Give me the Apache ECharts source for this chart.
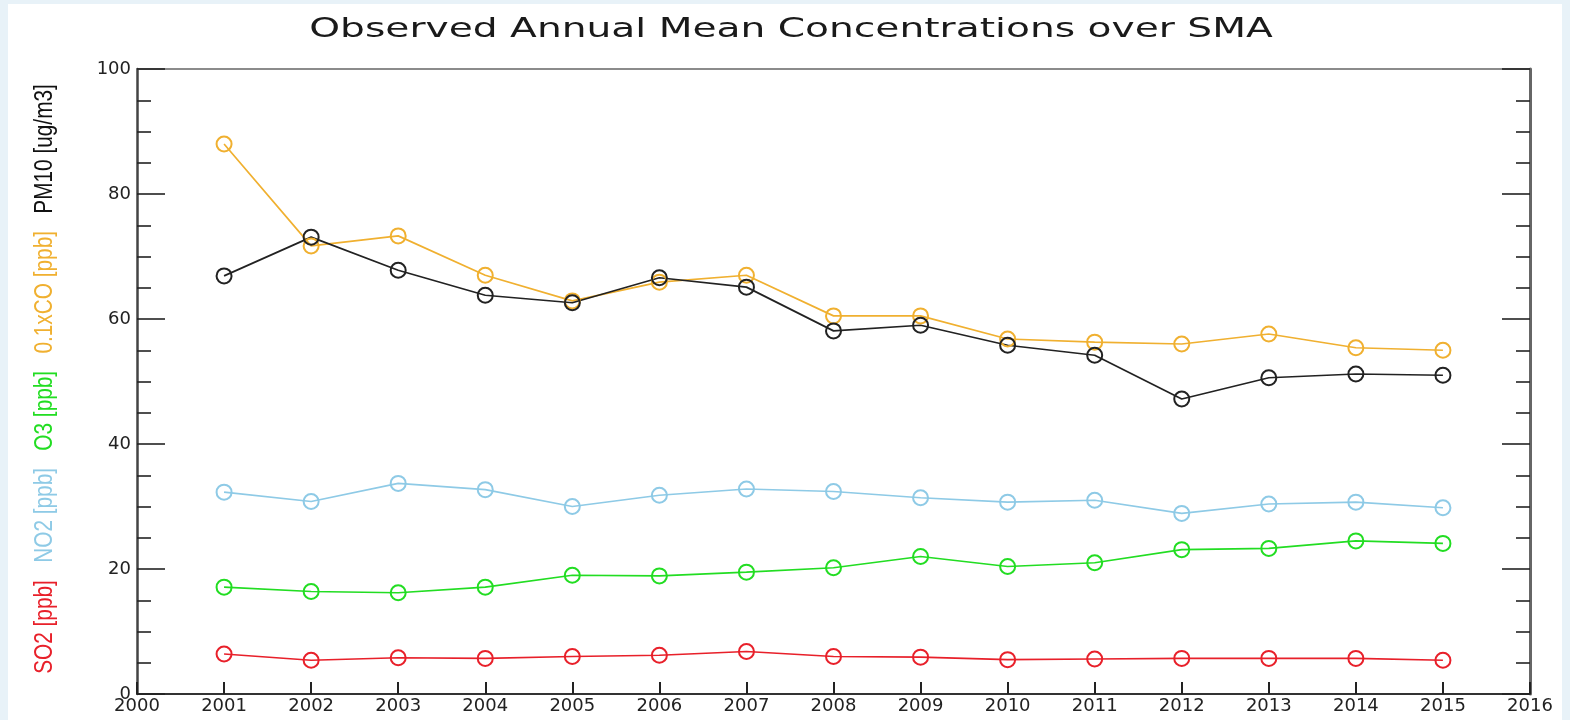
<!DOCTYPE html>
<html>
<head>
<meta charset="utf-8">
<title>Observed Annual Mean Concentrations over SMA</title>
<script src="https://cdn.jsdelivr.net/npm/echarts@6/dist/echarts.min.js"></script>
<style>
  html, body { margin: 0; padding: 0; background: #e8f2f8; }
  #chart { position: absolute; left: 8px; top: 4px; width: 1554px; height: 716px; background: #fff; }
</style>
</head>
<body>
<div id="chart"></div>
<script>
// annual means
var years = [2001, 2002, 2003, 2004, 2005, 2006, 2007, 2008, 2009, 2010, 2011, 2012, 2013, 2014, 2015]
var so2 = [6.4, 5.4, 5.8, 5.7, 6.0, 6.2, 6.8, 6.0, 5.9, 5.5, 5.6, 5.7, 5.7, 5.7, 5.4]
var no2 = [32.3, 30.8, 33.7, 32.7, 30.0, 31.8, 32.8, 32.4, 31.4, 30.7, 31.0, 28.9, 30.4, 30.7, 29.8]
var o3 = [17.1, 16.4, 16.2, 17.1, 19.0, 18.9, 19.5, 20.2, 22.0, 20.4, 21.0, 23.1, 23.3, 24.5, 24.1]
var co = [88.0, 71.7, 73.3, 67.0, 62.9, 65.9, 67.0, 60.5, 60.5, 56.8, 56.3, 56.0, 57.6, 55.4, 55.0]
var pm10 = [66.9, 73.1, 67.8, 63.8, 62.6, 66.6, 65.1, 58.1, 59.0, 55.8, 54.2, 47.2, 50.6, 51.2, 51.0]

var yTicks = [0, 20, 40, 60, 80, 100]

var font = 'DejaVu Sans, Verdana, sans-serif'
var narrow = 'Liberation Sans Narrow, Liberation Sans, Arial, sans-serif'

function pairs(vals) {
  return years.map(function(y, i) { return [y, vals[i]] })
}

function line(name, vals, color) {
  return {
    name: name,
    type: 'line',
    data: pairs(vals),
    symbol: 'circle',
    symbolSize: 15,
    lineStyle: { color: color, width: 1.7 },
    itemStyle: { color: 'rgba(0,0,0,0)', borderColor: color, borderWidth: 2 },
    emphasis: { disabled: true }
  }
}

var chart = echarts.init(document.getElementById('chart'))
chart.setOption({
  animation: false,
  grid: { left: 129, right: 32, top: 65, bottom: 26 },
  xAxis: [
    {
      type: 'value',
      position: 'bottom',
      min: 2000,
      max: 2016,
      interval: 1,
      axisLine: { show: true, onZero: false, lineStyle: { color: '#333', width: 2 } },
      axisTick: { show: true, inside: true, length: 12, lineStyle: { color: '#222', width: 2 } },
      axisLabel: { fontFamily: font, fontSize: 18, color: '#222', margin: 3, formatter: function(v) { return String(v) } },
      splitLine: { show: false }
    },
    {
      type: 'value',
      position: 'top',
      min: 2000,
      max: 2016,
      interval: 1,
      axisLine: { show: true, onZero: false, lineStyle: { color: '#666', width: 1.5 } },
      axisTick: { show: false },
      axisLabel: { show: false },
      splitLine: { show: false }
    }
  ],
  yAxis: [
    {
      type: 'value',
      position: 'left',
      min: yTicks[0],
      max: yTicks[yTicks.length - 1],
      interval: 20,
      axisLine: { show: true, onZero: false, lineStyle: { color: '#444', width: 2.5 } },
      axisTick: { show: true, inside: true, length: 28, lineStyle: { color: '#222', width: 1.6 } },
      minorTick: { show: true, splitNumber: 4, length: 14, lineStyle: { color: '#222', width: 1.6 } },
      axisLabel: { fontFamily: font, fontSize: 18, color: '#222', margin: 6 },
      splitLine: { show: false }
    },
    {
      type: 'value',
      position: 'right',
      min: yTicks[0],
      max: yTicks[yTicks.length - 1],
      interval: 20,
      axisLine: { show: true, onZero: false, lineStyle: { color: '#666', width: 3 } },
      axisTick: { show: true, inside: true, length: 28, lineStyle: { color: '#222', width: 1.6 } },
      minorTick: { show: true, splitNumber: 4, length: 14, lineStyle: { color: '#222', width: 1.6 } },
      axisLabel: { show: false },
      splitLine: { show: false }
    }
  ],
  graphic: [
    {
      // title, stretched like the original figure
      type: 'text',
      x: 783,
      y: 26,
      scaleX: 1.45,
      style: {
        text: 'Observed Annual Mean Concentrations over SMA',
        align: 'center',
        verticalAlign: 'middle',
        fontFamily: font,
        fontSize: 27,
        fill: '#1a1a1a'
      }
    },
    {
      // multi-coloured y label
      type: 'text',
      x: 37,
      y: 375,
      rotation: Math.PI / 2,
      scaleX: 0.8,
      style: {
        text: '{a|SO2 [ppb]}   {b|NO2 [ppb]}   {c|O3 [ppb]}   {d|0.1xCO [ppb]}   {e|PM10 [ug/m3]}',
        align: 'center',
        verticalAlign: 'middle',
        fontFamily: narrow,
        fontSize: 26,
        rich: {
          a: { fill: '#e8202a', fontSize: 26, fontFamily: narrow },
          b: { fill: '#8ecae6', fontSize: 26, fontFamily: narrow },
          c: { fill: '#22dd22', fontSize: 26, fontFamily: narrow },
          d: { fill: '#f0b030', fontSize: 26, fontFamily: narrow },
          e: { fill: '#111', fontSize: 26, fontFamily: narrow }
        }
      }
    }
  ],
  series: [
    line('SO2', so2, '#e8202a'),
    line('NO2', no2, '#8ecae6'),
    line('O3', o3, '#22dd22'),
    line('0.1xCO', co, '#f0b030'),
    line('PM10', pm10, '#222222')
  ]
})
</script>
</body>
</html>
